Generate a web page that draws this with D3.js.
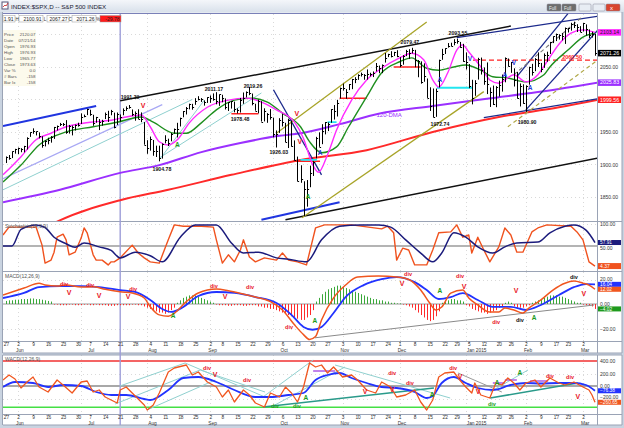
<!DOCTYPE html>
<html><head><meta charset="utf-8">
<script src="https://cdn.jsdelivr.net/npm/d3@7"></script>
<style>
body{margin:0;background:#c9d3e0;}
svg{display:block;font-family:"Liberation Sans",Arial,sans-serif;}
</style></head>
<body><svg id="c" width="624" height="428"></svg>
<script>
// ---------------- DATA ----------------
// trading calendar (index 0 = 2014-05-27, last = 2015-03-06)
const firstDay = "2014-05-27", lastDay = "2015-03-06";
const holidays = ["2014-07-04","2014-09-01","2014-11-27","2014-12-25","2015-01-01","2015-01-19","2015-02-16"];

const closes = [1911.91,1909.78,1920.03,1923.57,
1924.97,1924.24,1927.88,1940.46,1949.44,1951.27,1950.79,1943.89,1930.11,1936.16,1937.78,1941.99,1956.98,1959.48,1962.87,1962.61,1949.98,1959.53,1957.22,1960.96,1960.23,
1973.32,1974.62,1985.44,1977.65,1963.71,1972.83,1964.68,1967.57,1977.10,1973.28,1981.57,1958.12,1978.22,1973.63,1983.53,1987.01,1987.98,1978.34,1978.91,1969.95,1970.07,1930.67,
1925.15,1938.99,1920.21,1920.24,1909.57,1931.59,1936.92,1933.75,1946.72,1955.18,1955.06,1971.74,1981.60,1986.51,1992.37,1988.40,1997.92,2000.02,2000.12,1996.74,2003.37,
2002.28,2000.72,1997.65,2007.71,2001.54,1988.44,1995.69,1997.45,1985.54,1984.13,1998.98,2001.57,2011.36,2010.40,1994.29,1982.77,1998.30,1965.99,1982.85,1977.80,1972.29,
1946.16,1946.17,1967.90,1964.82,1935.10,1968.89,1928.21,1906.13,1874.74,1877.70,1862.49,1862.76,1886.76,1904.01,1941.28,1927.11,1950.82,1964.58,1961.63,1985.05,1982.30,1994.65,2018.05,
2017.81,2012.10,2023.57,2031.21,2031.92,2038.26,2039.68,2038.25,2039.33,2039.82,2041.32,2051.80,2048.72,2052.75,2063.50,2069.41,2067.03,2072.83,2067.56,
2053.44,2066.55,2074.33,2071.92,2075.37,2060.31,2059.82,2026.14,2035.33,2002.33,1989.63,1972.74,2012.89,2061.23,2070.65,2078.54,2082.17,2081.88,2088.77,2090.57,2080.35,2058.90,
2058.20,2020.58,2002.61,2025.90,2062.14,2044.81,2028.26,2023.03,2011.27,1992.67,2019.42,2022.55,2032.12,2063.15,2051.82,2057.09,2029.55,2002.16,2021.25,1994.99,
2020.85,2050.03,2041.51,2062.52,2055.47,2046.74,2068.59,2068.53,2088.48,2096.99,2100.34,2099.68,2097.45,2110.30,2109.66,2115.48,2113.86,2110.74,2104.50,
2117.39,2107.78,2098.53,2101.04,2071.26];

const highs = [1912.28,1914.46,1920.03,1924.03,
1925.88,1925.07,1928.63,1941.74,1949.44,1955.55,1950.86,1949.20,1943.36,1937.30,1941.15,1943.69,1957.74,1959.87,1963.91,1963.74,1968.17,1960.83,1959.89,1961.47,1964.24,
1978.58,1976.67,1985.59,1984.22,1976.39,1973.19,1969.84,1968.67,1979.85,1982.52,1983.94,1979.75,1979.91,1976.93,1986.24,1989.23,1991.39,1984.60,1981.52,1984.85,1980.03,1965.14,
1937.35,1942.92,1937.65,1928.89,1928.89,1932.38,1944.90,1939.65,1948.41,1955.23,1964.04,1971.99,1982.14,1988.40,1993.54,1993.23,2001.95,2005.04,2002.14,1998.55,2003.38,
2006.12,2009.28,2011.17,2007.71,2007.17,2001.56,1995.69,1997.65,1996.66,1986.36,2002.33,2010.74,2012.34,2019.26,2009.08,1993.39,1999.79,1997.32,1986.37,1978.96,1985.17,
1971.99,1952.32,1971.19,1977.84,1964.04,1970.36,1967.68,1936.98,1912.09,1898.71,1874.14,1876.01,1898.16,1905.03,1942.45,1949.31,1961.95,1965.27,1964.64,1985.17,1991.40,1999.40,2018.19,
2024.46,2015.98,2023.77,2031.61,2034.26,2038.70,2041.28,2038.96,2046.18,2041.08,2043.07,2056.08,2052.14,2053.84,2071.46,2070.17,2074.21,2073.20,2075.76,
2065.06,2068.22,2076.28,2077.34,2079.47,2076.28,2060.60,2058.55,2055.53,2032.25,2018.69,2016.89,2016.75,2061.23,2077.85,2078.76,2086.73,2087.26,2092.70,2093.55,2088.49,2085.58,
2072.36,2054.44,2030.25,2029.61,2064.08,2064.43,2049.30,2056.93,2018.40,2021.35,2020.46,2028.94,2038.29,2064.62,2062.98,2057.62,2047.86,2042.49,2024.64,2023.32,
2021.66,2050.30,2054.74,2063.55,2072.40,2056.16,2070.86,2073.48,2088.53,2097.03,2101.30,2100.23,2102.13,2110.61,2110.05,2117.94,2119.59,2115.76,2112.74,
2117.52,2115.48,2107.78,2104.25,2100.91];

const lows = [1902.17,1907.30,1909.82,1916.64,
1915.98,1918.79,1918.60,1922.93,1942.41,1947.16,1944.64,1940.08,1925.78,1927.69,1930.91,1933.55,1939.29,1952.26,1959.17,1958.89,1947.16,1947.49,1944.69,1952.18,1958.22,
1962.29,1972.58,1975.88,1974.88,1959.46,1964.16,1952.86,1959.63,1969.80,1965.34,1975.67,1955.59,1960.82,1965.77,1975.65,1982.44,1985.79,1974.37,1967.31,1969.95,1965.01,1930.38,
1916.37,1921.20,1913.37,1911.45,1904.78,1909.01,1932.43,1928.29,1935.60,1947.41,1941.50,1958.45,1972.56,1976.83,1984.76,1984.21,1991.74,1998.59,1996.20,1990.52,1994.65,
1994.85,1998.14,1992.54,1990.10,1995.60,1984.61,1982.26,1985.93,1980.26,1978.48,1979.84,1993.29,2003.07,2006.59,1991.01,1982.77,1978.63,1965.99,1966.22,1964.04,1968.96,
1941.72,1926.03,1948.51,1958.43,1934.38,1925.25,1927.56,1906.05,1874.14,1871.79,1820.66,1835.02,1864.99,1882.30,1909.38,1927.11,1931.19,1946.27,1951.37,1964.14,1969.04,1973.79,2001.39,
2013.68,2001.01,2014.42,2015.86,2025.07,2030.17,2035.28,2030.31,2030.44,2035.44,2034.43,2043.08,2040.37,2040.49,2056.75,2065.12,2064.75,2066.77,2065.06,
2049.57,2053.44,2066.65,2062.34,2070.81,2049.57,2034.17,2024.26,2027.22,2002.33,1982.26,1972.56,1973.26,2018.40,2061.03,2069.99,2079.77,2081.86,2083.31,2085.75,2079.53,2057.94,
2046.04,2017.34,1992.44,2005.55,2030.61,2038.33,2022.58,2008.25,1988.44,1991.47,1988.12,2004.49,2012.04,2026.38,2050.54,2040.97,2019.91,2001.49,1989.18,1993.38,
1980.90,2022.71,2036.72,2043.45,2049.97,2041.88,2048.62,2057.99,2069.98,2086.70,2089.80,2092.15,2090.79,2085.44,2103.00,2105.87,2109.89,2103.73,2103.75,
2104.50,2098.26,2094.49,2095.22,2067.27];

// moving averages (trading-day index, value)
const magentaDay = [-1,5,10,15,20,28,35,40,45,48,51,54,57,61,67,74,80,85,90,96,99,102,104,107,110,115,120,125,131,135,139,142,144,147,150,152,154,158,161,164,169,173,177,180,184,188,192,196];
const magentaVal = [1884,1912,1938,1948,1958,1965,1968,1973,1976,1958,1935,1930,1938,1964,1988,1999,2002,1996,1984,1965,1940,1900,1888,1915,1953,1999,2030,2048,2064,2071,2061,2030,2019,2041,2076,2084,2073,2050,2030,2025,2038,2027,2038,2058,2085,2102,2107,2103.14];
const greenDay = [-1,5,11,20,29,37,45,49,56,60,65,70,76,82,87,92,98,101,105,110,114,120,125,131,135,140,144,149,153,158,162,167,173,179,181,187,192,196];
const greenVal = [1873,1899,1930,1950,1958,1965,1973,1965,1948,1948,1964,1984,1999,2002,1996,1979,1958,1935,1918,1927,1958,2004,2041,2058,2064,2048,2045,2050,2053,2045,2035,2033,2027,2038,2050,2076,2096,2102];
const dma120Day = [-1,18,38,51,65,78,91,98,111,124,142,160,184,197];
const dma120Val = [1842,1861,1887,1899,1919,1933,1944,1948,1962,1978,1990,2001,2016,2025.83];
const redMaDay = [12,17,38,54,75,98,120,142,164,184,197];
const redMaVal = [1800,1812,1845,1861,1884,1907,1922,1950,1973,1988,1999.56];

// stochastics
const stochKDay = [-1,1,10,12,13,15,16,17,19,20,21,23,25,26,27,29,30,32,34,35,36,38,42,44,46,48,51,54,56,59,65,69,70,72,74,76,78,79,81,83,86,90,92,94,97,100,103,106,115,125,127,129,130,132,134,136,140,142,144,148,150,152,154,155,157,159,161,164,166,168,170,172,175,177,180,188,190,192,194,196];
const stochK = [75,93,93,52,11,18,36,70,77,64,30,36,68,91,80,30,18,18,7,14,14,23,52,34,23,14,11,64,98,95,95,93,64,11,30,14,41,64,25,14,23,18,34,18,14,7,91,98,98,89,95,80,18,45,41,7,7,41,80,82,98,70,75,34,70,41,14,48,91,75,36,36,82,91,98,95,82,64,14,4.37];
const stochDDay = [-1,2,5,10,13,16,20,23,26,31,35,38,43,48,52,58,63,70,75,79,84,90,94,100,105,111,118,124,128,133,138,142,145,149,153,157,162,166,170,177,181,186,189,193,196];
const stochD = [50,50,88,98,92,70,55,47,57,48,40,23,36,28,14,70,98,98,57,34,36,23,20,14,64,95,98,98,93,64,34,14,34,80,70,48,34,48,57,59,80,95,98,86,57.91];

// MACD(12,26,9)
const macdDay = [-1,6,11,13,17,20,25,29,33,38,42,46,48,51,54,56,60,64,70,74,79,83,88,92,96,99,101,103,105,109,113,117,124,130,134,138,141,143,145,148,152,154,157,161,164,166,169,172,174,178,182,186,189,192,194,196];
const macdVal = [7.3,13,17,15.5,14.6,15.5,13.8,14,12,10,9,4.9,-2.2,-8.9,-10,-7.6,1.9,9,12.2,10.8,8.1,5.7,1.9,-4.9,-17,-25,-29,-26.6,-13,5,15.5,22,22.8,22,20,11.4,0.8,-4.9,-2.4,8.9,11.4,4.9,-0.8,-6.5,-6.5,-3.3,-4.9,-7.3,-3.3,3.3,11.4,17,18.7,17,15.4,12.02];
const signalDay = [-1,6,11,18,25,31,38,43,48,52,55,59,64,70,76,83,90,95,99,102,105,109,113,119,125,130,136,140,144,148,152,157,162,168,173,178,184,189,193,196];
const signalVal = [4.9,9,13.8,14.6,14.6,13.8,11.4,9.8,3.3,-4.1,-6.5,-2.4,6.5,9.8,9,5.7,0.8,-8.9,-18.7,-21,-18.7,-7.3,5.7,15.4,20.3,22,17.9,11.4,4.1,5.7,8.9,3.3,-2.4,-2.4,-4.9,-0.8,7.3,13.8,16.3,16.04];
const histVal = [2.5,3,3,3.5,3.5,4,4,4,4.5,4.5,4,4,3.5,3,2.5,2,
-0.5,-0.5,-1,-1,-1,-0.5,-0.5,-1,-1,-1,-0.5,-0.5,-1,-1,-0.5,-1,-1,-1,-1.5,-1.5,-1.5,-1,-1,-1,-1,-1,-0.5,-0.5,-1,
-1,-2,-3,-4,-5,-6,-7,-7,-8,-7,-5,-3,
1,3,5,6,7,7,7,6,5,4,3,2,1,
-0.5,-1,-1,-1,-1.5,-1.5,-1,-1,-1,-1.5,-1.5,-1,-1,
-1,-2,-2,-3,-3,-4,-4,-5,-6,-7,-8,-9,-10,-11,-12,-13,-13,-11,-9,-5,
2,5,8,10,12,13,14,15,15,14,13,12,11,10,9,8,7,6,5,4,4,3,3,2,2,1,1,0.5,0.5,-0.5,
-1,-2,-3,-5,-7,-9,-11,-13,-14,-13,-10,-6,
1,2,3,4,4,3,3,2,
-1,-2,-4,-5,-6,-7,-7,-8,-7,-6,-5,-3,-2,1,2,1,-2,-3,-3,-3,-2,-1,
1,2,3,4,5,6,7,7,7,6,6,5,4,3,2,1,1,
-0.5,-1,-1.5,-2,-4.02];

// WACD(12,26,9)
const wacdDay = [-1,1,3,5,7,9,11,14,17,19,22,25,27,29,31,33,35,37,38,40,42,46,47,49,51,54,56,60,62,64,67,70,72,74,76,79,81,83,86,88,91,93,95,97,99,101,103,105,107,109,112,115,117,120,123,125,128,130,133,136,138,140,142,144,146,149,151,153,155,156,158,161,163,165,167,169,171,173,176,178,181,184,186,189,192,194,195,196];
const wacdVal = [96,176,112,-32,64,144,-16,-96,96,16,-112,64,80,-96,-64,-176,-224,-272,-64,-16,-112,-304,-384,-304,-112,224,288,336,176,224,64,-16,-176,-64,-256,-64,-144,-272,-336,-112,-176,-16,-112,-256,-16,368,304,336,208,304,144,176,96,-64,-112,64,-16,-176,-144,-64,-256,-384,-224,144,208,224,96,-16,-112,48,-144,-192,48,16,128,48,-64,48,96,-16,128,48,16,64,-16,-64,-144,-260.65];
const wsigDay = [-1,3,9,14,19,25,30,35,40,46,48,54,59,64,70,76,83,88,94,99,103,107,111,115,120,125,130,136,140,142,145,149,153,157,162,168,173,178,184,189,193,196];
const wsigVal = [-16,64,48,-16,16,0,-96,-144,-144,-208,-224,-64,128,144,64,-64,-176,-176,-144,-112,96,176,208,128,48,-16,-32,-96,-192,-160,48,144,48,-32,-64,16,48,40,48,48,16,-76.38];
const wacdLevels = [400, -340];

// trend lines drawn on the chart: [day1, value1, day2, value2]
const blackTrend = [[38,1998,168,2113],[93,1815,197,1910]];
const blueTrend = [[-1,1959,30,1990],[85,1815,111,1842]];
const navyTrend = [[150,2095,197,2128],[170,2035,187,2132],[173,1984,197,2107],[159,1972,197,2001],[89,2015,105,1884]];
const oliveTrend = [[90,1948,140,2119],[98.5,1818,159,2012]];
const oliveDashTrend = [[167,1958,197,2061]];
const grayDashTrend = [[169,2038,192,2128]];
const lavenderTrend = [[-1,1878,52,1992]];
const tealTrend = [[-1,1861,62,2000],[51,1907,66,1999],[51,1910,85,2010]];
// horizontal segments: [day1, day2, value]
const redLevels = [[75,84,1978],[129,138,2050],[111,120,2002],[95.5,104.5,1905]];
const cyanLevels = [[143.4,155.4,2018],[107,110,1965],[98,103.5,1907]];
const redDashLevel = [[155.4,196.7,2060.5]];
// price labels [day, value, text]
const priceNotes = [[41.3,2004,"1991.39"],[51.9,1893,"1904.78"],[69.2,2016,"2011.17"],[82.2,2021,"2019.26"],[77.9,1970,"1978.48"],[90.8,1919,"1926.03"],[134.4,2088.5,"2079.47"],[150.4,2102,"2093.55"],[144.4,1962,"1972.74"],[173.4,1965,"1980.90"]];
const priceRedV = [[45.6,1990],[96.8,1979],[97.8,1935]];
const priceBlueA = [[144.4,2030],[104.5,1918],[166,2038],[174.4,2018]];
const priceBlueV = [[154.4,2062],[169,2056]];
const priceGreenA = [[100.5,1850],[57,1930]];

const macdRedDiv = [[19.3,16.3],[28,15.4],[42.3,12.2],[69.2,14.6],[81.2,13.8],[94.2,-18.7],[133.8,24.4],[151.1,22.8],[163.1,-14.6]];
const macdRedV = [[21,9],[31,6.5],[40.6,5.7],[72.9,5.7],[131.8,17.1],[152.4,14.6],[169.7,10.6],[192.3,8.9]];
const macdGreenA = [[55.6,-9.8],[102.8,-13.8],[144.4,10.6],[175.7,-11.4]];
const macdBlackDiv = [[171,-13],[189,22]];
const macdTrend = [[102.8,-27.6,195.7,-0.8]];

const wacdRedDiv = [[66.9,288],[80.2,96],[128.5,208],[134.4,48],[148.8,288],[181,160],[187.7,144]];
const wacdRedV = [[69.6,176],[119.5,-96],[128.5,-64],[151.1,144],[157.1,-96],[190.3,-176]];
const wacdGreenA = [[99.8,-192],[141.8,-144],[163.4,48],[171,208]];
const wacdGreenDiv = [[89.5,-320],[96.8,-320],[161.7,-288]];
const wacdTeal = [[37.9,0,59.6,368],[36.3,-288,64.6,256],[46.9,-384,69.6,96],[59.6,368,86.2,-176],[64.6,256,86.2,-96],[85.5,-176,102.2,416],[89.5,-304,112.8,304],[109.5,336,147.8,-192],[161.1,-96,173.7,256]];
const wacdDarkTeal = [[85.5,-336,142.4,-32],[161.1,-192,190.3,48]];
const wacdGray = [[150.4,208,165,-96]];
const wacdPurpleLevels = [[102.2,109.5,240],[162,166,48],[166,170,96],[174.4,180.4,80]];

// tick values (labels hidden under value boxes are left out)
const priceGrid = [1850,1900,1950,2000,2050,2100];
const priceTicks = [1850,1900,1950,2050];
const stochTicks = [100,50];
const macdTicks = [20,0,-20];
const wacdTicks = [400,200,0,-200];
const cursorDay = 38;

const headerItems = [["", "1.91"],["H","2100.91"],["L","2067.27"],["C","2071.26"],["%","-29.78"]];
const infoLabels = ["Price","Date","Open","High","Low","Close","Var %","# Bars","Bar Ix"];
const infoValues = ["2120.07","07/21/14","1976.93","1976.93","1965.77","1973.63","0.0","-158","-158"];

// ---------------- DRAW ----------------
const svg = d3.select("#c");
function tradingDays(){
  const out=[]; let d=new Date(firstDay+"T00:00:00Z"); const end=new Date(lastDay+"T00:00:00Z");
  while(d<=end){const w=d.getUTCDay(); const s=d.toISOString().slice(0,10);
    if(w>0&&w<6&&!holidays.includes(s)) out.push(new Date(d)); d=new Date(d.getTime()+864e5);}
  return out;
}
const days = tradingDays();

const x = d3.scaleLinear().domain([-1,197]).range([3,598]);
const yP = d3.scaleLinear().domain([1813,2133]).range([221,13]);
const yS = d3.scaleLinear().domain([0,100]).range([268,224]);
const yM = d3.scaleLinear().domain([-20,20]).range([328.5,279.5]);
const yW = d3.scaleLinear().domain([-400,400]).range([411,361]);

const defs = svg.append("defs");
function clip(id,y0,y1){defs.append("clipPath").attr("id",id).append("rect").attr("x",3).attr("y",y0).attr("width",594).attr("height",y1-y0);}
clip("cp",13.5,221); clip("cs",222,271); clip("cm",272,341); clip("cw",355,414);

// window frame
svg.append("rect").attr("width",624).attr("height",428).attr("fill","#c9d3e0");
const tg = defs.append("linearGradient").attr("id","tb").attr("x1",0).attr("y1",0).attr("x2",0).attr("y2",1);
tg.append("stop").attr("offset",0).attr("stop-color","#f4f6fa"); tg.append("stop").attr("offset",1).attr("stop-color","#d9e1eb");
svg.append("rect").attr("x",0).attr("y",0).attr("width",624).attr("height",12).attr("fill","url(#tb)");
svg.append("rect").attr("x",2).attr("y",2).attr("width",6).attr("height",7).attr("fill","#fff").attr("stroke","#557");
svg.append("path").attr("d","M3,7 L5,5 L6,6 L8,3").attr("stroke","#c22").attr("fill","none").attr("stroke-width",0.8);
svg.append("text").attr("x",11).attr("y",8.5).attr("font-size",6.2).attr("fill","#223").text("INDEX:$SPX,D -- S&P 500 INDEX");
// window buttons
[[547,14,"#6d6d6d"],[562,14,"#6d6d6d"],[579,12,"#e8edf4"],[593,12,"#e8edf4"],[606,14,"#d9452f"]].forEach(b=>{
  svg.append("rect").attr("x",b[0]).attr("y",4).attr("width",b[1]).attr("height",7).attr("rx",1).attr("fill",b[2]).attr("stroke","#889").attr("stroke-width",0.5);
});
svg.append("text").attr("x",549).attr("y",9.5).attr("font-size",4.5).attr("fill","#eee").text("Full");
svg.append("text").attr("x",564).attr("y",9.5).attr("font-size",4.5).attr("fill","#eee").text("Full");
svg.append("text").attr("x",610).attr("y",10).attr("font-size",6).attr("fill","#fff").text("x");

// white chart areas
svg.append("rect").attr("x",3).attr("y",12.5).attr("width",619).attr("height",340.5).attr("fill","#fff");
svg.append("rect").attr("x",3).attr("y",355).attr("width",619).attr("height",70).attr("fill","#fff");

const grid = svg.append("g").attr("stroke","#cfcfcf").attr("stroke-dasharray","1,3").attr("stroke-width",0.8);
const monthStarts = days.map((d,i)=>i).filter(i=>i>0 && days[i].getUTCMonth()!==days[i-1].getUTCMonth());
function vgrid(y0,y1){monthStarts.forEach(i=>grid.append("line").attr("x1",Math.round(x(i))+0.5).attr("x2",Math.round(x(i))+0.5).attr("y1",y0).attr("y2",y1));}
function hgrid(vals,ys){vals.forEach(v=>grid.append("line").attr("x1",3).attr("x2",597).attr("y1",Math.round(ys(v))+0.5).attr("y2",Math.round(ys(v))+0.5));}
vgrid(14,221); vgrid(222,271); vgrid(272,341); vgrid(355,414);
hgrid(priceGrid,yP); hgrid([100],yS); hgrid([20,-20],yM); hgrid([200,-200],yW);

// panel borders
const bd = svg.append("g").attr("stroke","#9aa3b5").attr("stroke-width",1);
[[3,13.5,597,13.5],[3,221.5,622,221.5],[3,271.5,622,271.5],[3,341.5,622,341.5],[597.5,13,597.5,353],[3,353,622,353],[622,12,622,353],[2.5,12,2.5,353],
 [3,355,622,355],[3,414.5,622,414.5],[597.5,355,597.5,425],[622,355,622,425],[2.5,355,2.5,425],[3,425,622,425]].forEach(l=>
  bd.append("line").attr("x1",l[0]).attr("y1",l[1]).attr("x2",l[2]).attr("y2",l[3]));
svg.append("line").attr("x1",3).attr("x2",597).attr("y1",13.5).attr("y2",13.5).attr("stroke","#7a80b8");

// reference lines in indicator panels
svg.append("line").attr("x1",3).attr("x2",597).attr("y1",yS(50)).attr("y2",yS(50)).attr("stroke","#b4b4b4").attr("stroke-width",2);
svg.append("line").attr("x1",3).attr("x2",597).attr("y1",yM(0)).attr("y2",yM(0)).attr("stroke","#9a9a9a").attr("stroke-width",1.2);
svg.append("line").attr("x1",3).attr("x2",597).attr("y1",yW(0)).attr("y2",yW(0)).attr("stroke","#a8a8a8").attr("stroke-width",2);
svg.selectAll(null).data(wacdLevels).enter().append("line").attr("x1",3).attr("x2",597)
  .attr("y1",d=>yW(d)).attr("y2",d=>yW(d)).attr("stroke",(d,i)=>i?"#44e044":"#f03030").attr("stroke-width",1.4);

// cursor line
svg.append("line").attr("x1",x(cursorDay)).attr("x2",x(cursorDay)).attr("y1",14).attr("y2",425).attr("stroke","#9d9dd8").attr("stroke-width",1.4);

// helpers
function lines(g,arr,ys,color,w,dash){g.selectAll(null).data(arr).enter().append("line")
  .attr("x1",d=>x(d[0])).attr("y1",d=>ys(d[1])).attr("x2",d=>x(d[2])).attr("y2",d=>ys(d[3]))
  .attr("stroke",color).attr("stroke-width",w).attr("stroke-dasharray",dash||null);}
function hlines(g,arr,ys,color,w,dash){g.selectAll(null).data(arr).enter().append("line")
  .attr("x1",d=>x(d[0])).attr("x2",d=>x(d[1])).attr("y1",d=>ys(d[2])).attr("y2",d=>ys(d[2]))
  .attr("stroke",color).attr("stroke-width",w).attr("stroke-dasharray",dash||null);}
function curve(g,dx,dv,ys,color,w,c){g.append("path").datum(dx.map((d,i)=>[d,dv[i]]))
  .attr("d",d3.line().x(d=>x(d[0])).y(d=>ys(d[1])).curve(c||d3.curveMonotoneX))
  .attr("fill","none").attr("stroke",color).attr("stroke-width",w).attr("stroke-linejoin","round");}
function notes(g,arr,ys,txt,color,size,weight){g.selectAll(null).data(arr).enter().append("text")
  .attr("x",d=>x(d[0])).attr("y",d=>ys(d[1])).attr("dy","0.35em").attr("text-anchor","middle")
  .attr("font-size",size).attr("font-weight",weight||"bold").attr("fill",color).text(d=>d[2]!==undefined?d[2]:txt);}

// ---- price panel
const gp = svg.append("g").attr("clip-path","url(#cp)");
curve(gp,redMaDay,redMaVal,yP,"#ff2a2a",2);
curve(gp,dma120Day,dma120Val,yP,"#9b30ff",2);
lines(gp,tealTrend,yP,"#8fd0cf",1);
lines(gp,lavenderTrend,yP,"#a8a8f4",1.2);
lines(gp,blackTrend,yP,"#111",1.5);
lines(gp,blueTrend,yP,"#2035e0",2);
lines(gp,navyTrend,yP,"#1c2a8c",1.3);
lines(gp,oliveTrend,yP,"#a8a428",1.3);
lines(gp,oliveDashTrend,yP,"#b0a848",1.2,"4,3");
lines(gp,grayDashTrend,yP,"#777",1.1,"4,3");
hlines(gp,redLevels,yP,"#ff2222",1.5);
hlines(gp,cyanLevels,yP,"#22e6f0",1.8);
hlines(gp,redDashLevel,yP,"#ff2222",1.3,"5,3");
curve(gp,greenDay,greenVal,yP,"#1f8f1f",1.4);
curve(gp,magentaDay,magentaVal,yP,"#ff2bff",1.4);
const bars = gp.append("g").attr("stroke","#000").attr("stroke-width",1);
closes.forEach((c,i)=>{
  const xi=Math.round(x(i))+0.5;
  bars.append("line").attr("x1",xi).attr("x2",xi).attr("y1",yP(highs[i])).attr("y2",yP(lows[i]));
  bars.append("line").attr("x1",xi).attr("x2",xi+1.6).attr("y1",Math.round(yP(c))+0.5).attr("y2",Math.round(yP(c))+0.5);
});
notes(gp,priceNotes,yP,"","#111",5.2);
notes(gp,[[127.5,1977]],yP,"120-DMA","#9b30ff",6,"normal");
notes(gp,priceRedV,yP,"V","#e8141e",7);
notes(gp,priceBlueA,yP,"A","#2438d8",6.5);
notes(gp,priceBlueV,yP,"V","#2438d8",6.5);
notes(gp,priceGreenA,yP,"A","#1a9a1a",6.5);
gp.append("text").attr("x",x(191.7)).attr("y",yP(2062)).attr("text-anchor","end").attr("font-size",5.5).attr("font-weight","bold").attr("fill","#ff2222").text("2060.50");

// header quote boxes
const hb=[[3,15],[19,43],[47,69],[72,96],[100,121]];
headerItems.forEach((h,i)=>{
  const b=hb[i];
  svg.append("rect").attr("x",b[0]).attr("y",15.5).attr("width",b[1]-b[0]).attr("height",6.5)
    .attr("fill",i===4?"#ff1a1a":"#fff").attr("stroke","#999").attr("stroke-width",0.5);
  svg.append("text").attr("x",b[1]-1.5).attr("y",20.7).attr("text-anchor","end").attr("font-size",5).attr("fill","#222").text(h[1]);
  if(h[0]) svg.append("text").attr("x",b[0]-2).attr("y",20.7).attr("text-anchor","middle").attr("font-size",4.5).attr("fill","#333").text(h[0]);
});
// data window
svg.append("rect").attr("x",3).attr("y",30).attr("width",33).attr("height",56).attr("fill","#fcfaec");
infoLabels.forEach((t,i)=>{
  svg.append("text").attr("x",4).attr("y",35.5+i*6).attr("font-size",4.4).attr("fill","#555").text(t);
  svg.append("text").attr("x",35.5).attr("y",35.5+i*6).attr("text-anchor","end").attr("font-size",4.4).attr("fill","#555").text(infoValues[i]);
});

// ---- stochastics
const gs = svg.append("g").attr("clip-path","url(#cs)");
curve(gs,stochKDay,stochK,yS,"#f0521e",1.4,d3.curveLinear);
curve(gs,stochDDay,stochD,yS,"#1b1b7c",1.5);
svg.append("text").attr("x",5).attr("y",227.5).attr("font-size",5).attr("fill","#555").text("Stochastics(14,3,9)");

// ---- MACD
const gm = svg.append("g").attr("clip-path","url(#cm)");
gm.selectAll(null).data(histVal).enter().append("line")
  .attr("x1",(d,i)=>Math.round(x(i))+0.5).attr("x2",(d,i)=>Math.round(x(i))+0.5)
  .attr("y1",yM(0)).attr("y2",d=>yM(d)).attr("stroke",d=>d>=0?"#3aa83a":"#ff2a2a").attr("stroke-width",1);
lines(gm,macdTrend,yM,"#8a8a8a",1);
curve(gm,signalDay,signalVal,yM,"#2233ff",1.8);
curve(gm,macdDay,macdVal,yM,"#f0561f",1.5);
notes(gm,macdRedDiv,yM,"div","#e8141e",5.5);
notes(gm,macdRedV,yM,"V","#e8141e",7);
notes(gm,macdGreenA,yM,"A","#1a9a1a",6.5);
notes(gm,macdBlackDiv,yM,"div","#111",5.5);
svg.append("text").attr("x",5).attr("y",277.5).attr("font-size",5).attr("fill","#555").text("MACD(12,26,9)");

// ---- WACD
const gw = svg.append("g").attr("clip-path","url(#cw)");
lines(gw,wacdTeal,yW,"#8fd0cf",1);
lines(gw,wacdDarkTeal,yW,"#2a9a8a",1.6);
lines(gw,wacdGray,yW,"#999",1);
hlines(gw,wacdPurpleLevels,yW,"#a040e0",1.3);
curve(gw,wsigDay,wsigVal,yW,"#2233ff",1.8);
curve(gw,wacdDay,wacdVal,yW,"#f0561f",1.3,d3.curveLinear);
notes(gw,wacdRedDiv,yW,"div","#e8141e",5.5);
notes(gw,wacdRedV,yW,"V","#e8141e",7);
notes(gw,wacdGreenA,yW,"A","#1a9a1a",6.5);
notes(gw,wacdGreenDiv,yW,"div","#1a9a1a",5.5);
svg.append("text").attr("x",5).attr("y",360.5).attr("font-size",5).attr("fill","#555").text("WACD(12,26,9)");

// ---- right axes
function rightAxis(ys,ticks,shift){
  const a=svg.append("g").attr("transform","translate(597,0)")
    .call(d3.axisRight(ys).tickValues(ticks).tickSize(0).tickPadding(3).tickFormat(d3.format(".2f")));
  a.select(".domain").remove();
  a.selectAll("text").attr("font-size",5).attr("fill","#333").attr("font-family","Liberation Sans, Arial")
    .attr("dy",d=>(shift&&shift[d]!==undefined)?shift[d]+"em":"0.32em");
}
rightAxis(yP,priceTicks); rightAxis(yS,stochTicks,{50:0.75}); rightAxis(yM,macdTicks,{20:0.15}); rightAxis(yW,wacdTicks,{"-200":0.05});
function valueBox(ys,v,bg,fg,h,fs){
  svg.append("rect").attr("x",598).attr("y",ys(v)-h/2).attr("width",23).attr("height",h).attr("fill",bg);
  svg.append("text").attr("x",600).attr("y",ys(v)).attr("dy","0.34em").attr("font-size",fs).attr("fill",fg).text(d3.format(".2f")(v));
}
valueBox(yP,2103.14,"#ff22ff","#222",6.5,5.3); valueBox(yP,2071.26,"#000","#fff",6.5,5.3); valueBox(yP,2025.83,"#9b30ff","#fff",6.5,5.3); valueBox(yP,1999.56,"#ff2020","#fff",6.5,5.3);
valueBox(yS,57.91,"#1b1b7c","#fff",5,4.8); valueBox(yS,4.37,"#f0521e","#fff",6,5);
valueBox(yM,16.04,"#2233ff","#fff",5,4.8); valueBox(yM,12.02,"#f0561f","#fff",5,4.8); valueBox(yM,-4.02,"#1e9a1e","#fff",5,4.8);
valueBox(yW,-76.38,"#2233ff","#fff",5,4.8); valueBox(yW,-260.65,"#f0561f","#fff",5,4.8);

// ---- date axes
const weekIdx = days.map((d,i)=>i).filter(i=>i===0||days[i].getUTCDay()<days[i-1].getUTCDay());
const monthNames=["Jan","Feb","Mar","Apr","May","Jun","Jul","Aug","Sep","Oct","Nov","Dec"];
const monthIdx = weekIdx.filter((i,k)=>k>0 && days[i].getUTCMonth()!==days[weekIdx[k-1]].getUTCMonth());
function dateAxis(y){
  const a=svg.append("g").attr("transform",`translate(0,${y})`)
    .call(d3.axisBottom(x).tickValues(weekIdx).tickSize(1.5).tickPadding(0).tickFormat(i=>days[i].getUTCDate()));
  a.select(".domain").remove();
  a.selectAll("line").attr("stroke","#888");
  a.selectAll("text").attr("font-size",4.8).attr("fill","#333").attr("font-family","Liberation Sans, Arial");
  svg.append("g").selectAll(null).data(monthIdx).enter().append("text")
    .attr("x",i=>x(i)-2).attr("y",y+10.3).attr("font-size",4.8).attr("fill","#333")
    .text(i=>{const d=days[i]; return d.getUTCMonth()===0?"Jan "+d.getUTCFullYear():monthNames[d.getUTCMonth()];});
}
dateAxis(341.5); dateAxis(414.5);
</script></body></html>
